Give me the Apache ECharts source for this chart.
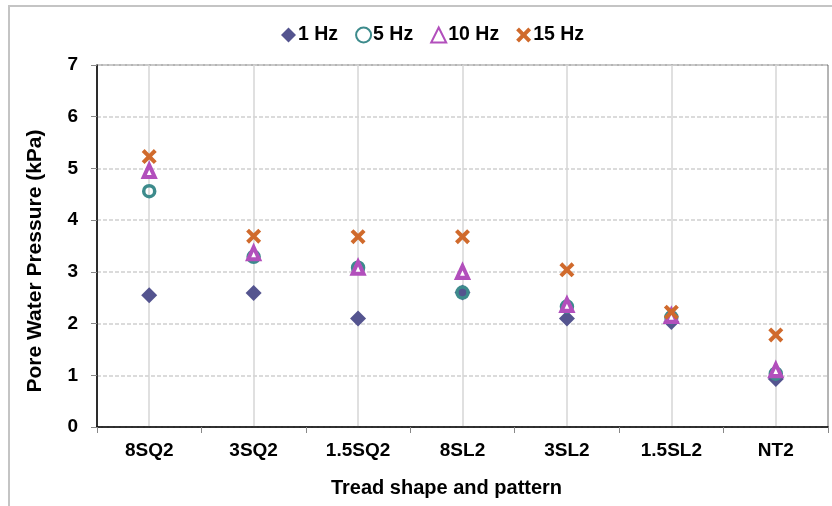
<!DOCTYPE html>
<html>
<head>
<meta charset="utf-8">
<title>Pore Water Pressure</title>
<script src="https://cdn.jsdelivr.net/npm/echarts@6/dist/echarts.min.js"></script>
<style>
  html, body { margin: 0; padding: 0; background: #fff; }
  #main { width: 832px; height: 506px; }
</style>
</head>
<body>
<div id="main"></div>
<script>
// categories and values
var categories = ['8SQ2', '3SQ2', '1.5SQ2', '8SL2', '3SL2', '1.5SL2', 'NT2'];
var hz1  = [2.55, 2.59, 2.10, 2.60, 2.10, 2.03, 0.93];
var hz5  = [4.56, 3.29, 3.08, 2.60, 2.33, 2.12, 1.03];
var hz10 = [4.95, 3.36, 3.08, 3.00, 2.36, 2.15, 1.10];
var hz15 = [5.23, 3.69, 3.68, 3.68, 3.04, 2.22, 1.78];
var yTicks = [0, 1, 2, 3, 4, 5, 6, 7];

// X 形标记
var crossPath = 'path://M0,1.9 L1.9,0 L5,3.1 L8.1,0 L10,1.9 L6.9,5 L10,8.1 L8.1,10 L5,6.9 L1.9,10 L0,8.1 L3.1,5 Z';

var chart = echarts.init(document.getElementById('main'));

var fontName = 'Liberation Sans, Arial, sans-serif';
var labelFont = {
    fontFamily: fontName,
    fontWeight: 'bold',
    fontSize: 19,
    color: '#000'
};

var option = {
    animation: false,
    backgroundColor: '#fff',
    graphic: [{
        type: 'polyline',
        shape: { points: [[9, 506], [9, 6], [832, 6]] },
        style: { stroke: '#c4c4c4', lineWidth: 2, fill: null },
        silent: true
    }],
    legend: {
        top: 20,
        left: 276,
        itemGap: 17,
        itemWidth: 15,
        itemHeight: 15,
        textStyle: {
            fontFamily: fontName,
            fontWeight: 'bold',
            fontSize: 19.5,
            color: '#000',
            padding: [0, 0, 0, -3]
        },
        data: ['1 Hz', '5 Hz', '10 Hz', '15 Hz']
    },
    grid: {
        left: 97,
        top: 65,
        right: 4,
        bottom: 79,
        show: true,
        borderColor: '#6a6a6a',
        borderWidth: 1,
        containLabel: false
    },
    xAxis: {
        type: 'category',
        data: categories,
        boundaryGap: true,
        name: 'Tread shape and pattern',
        nameLocation: 'middle',
        nameGap: 51,
        nameTextStyle: Object.assign({}, labelFont, { fontSize: 20, padding: [0, 32, 0, 0] }),
        axisLine: { show: true, lineStyle: { color: '#000', width: 1.5 } },
        axisTick: { show: true, inside: false, length: 6, lineStyle: { color: '#888' } },
        axisLabel: Object.assign({ margin: 14 }, labelFont),
        splitLine: { show: true, alignWithLabel: true, lineStyle: { color: '#d6d6d6', width: 1.5, type: 'solid' } }
    },
    yAxis: {
        type: 'value',
        min: 0,
        max: 7,
        interval: 1,
        name: 'Pore Water Pressure (kPa)',
        nameLocation: 'middle',
        nameGap: 51,
        nameTextStyle: Object.assign({}, labelFont, { fontSize: 21, padding: [0, 30, 0, 0] }),
        axisLine: { show: true, lineStyle: { color: '#000', width: 1.5 } },
        axisTick: { show: true, inside: false, length: 6, lineStyle: { color: '#888' } },
        axisLabel: Object.assign({
            margin: 19,
            formatter: function (v) { return yTicks.indexOf(v) >= 0 ? String(v) : ''; }
        }, labelFont),
        splitLine: { show: true, lineStyle: { color: '#cfcfcf', width: 1.5, type: [4, 2] } }
    },
    series: [{
        name: '1 Hz',
        type: 'scatter',
        data: hz1,
        symbol: 'diamond',
        symbolSize: 16,
        itemStyle: { color: '#54548f', opacity: 1 }
    }, {
        name: '5 Hz',
        type: 'scatter',
        data: hz5,
        symbol: 'circle',
        symbolSize: 11,
        itemStyle: { color: 'rgba(255,255,255,0)', borderColor: '#3d8b8c', borderWidth: 3.5, opacity: 1 }
    }, {
        name: '10 Hz',
        type: 'scatter',
        data: hz10,
        symbol: 'triangle',
        symbolSize: [11, 12],
        itemStyle: { color: '#fff', borderColor: '#b24fbc', borderWidth: 4, opacity: 1 }
    }, {
        name: '15 Hz',
        type: 'scatter',
        data: hz15,
        symbol: crossPath,
        symbolSize: 15,
        itemStyle: { color: '#d06a2c', opacity: 1 }
    }]
};

chart.setOption(option);
</script>
</body>
</html>
